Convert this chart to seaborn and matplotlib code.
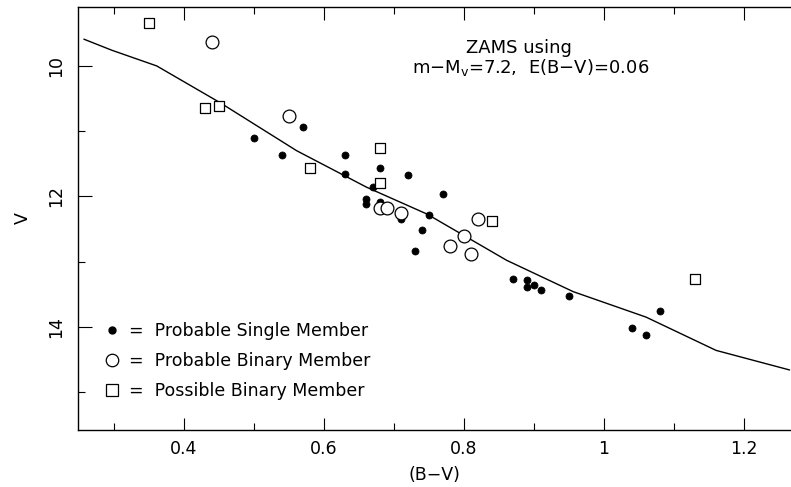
import numpy as np
import pandas as pd
import matplotlib
matplotlib.use("Agg")
import matplotlib.pyplot as plt
from matplotlib.lines import Line2D
from matplotlib.ticker import MultipleLocator
import seaborn as sns

# ---- data ----
zams_bv = [0.257, 0.297, 0.361, 0.451, 0.561, 0.661, 0.747, 0.861, 0.956, 1.06, 1.16, 1.265]
zams_v = [9.59, 9.76, 10.00, 10.56, 11.30, 11.86, 12.27, 12.98, 13.46, 13.85, 14.36, 14.66]

single_bv = [0.57, 0.50, 0.54, 0.63, 0.63, 0.68, 0.72, 0.67, 0.66, 0.66, 0.68, 0.77,
             0.71, 0.75, 0.74, 0.73, 0.87, 0.89, 0.89, 0.90, 0.91, 0.95, 1.04, 1.06, 1.08]
single_v = [10.94, 11.10, 11.37, 11.36, 11.65, 11.57, 11.67, 11.86, 12.04, 12.11, 12.09, 11.96,
            12.35, 12.28, 12.51, 12.84, 13.27, 13.28, 13.39, 13.36, 13.43, 13.52, 14.02, 14.12, 13.75]

binary_bv = [0.44, 0.55, 0.68, 0.69, 0.71, 0.82, 0.80, 0.78, 0.81]
binary_v = [9.64, 10.77, 12.18, 12.18, 12.26, 12.35, 12.60, 12.76, 12.89]

possible_bv = [0.35, 0.43, 0.45, 0.58, 0.68, 0.68, 0.84, 1.13]
possible_v = [9.34, 10.65, 10.61, 11.57, 11.26, 11.80, 12.38, 13.27]

xticks = [0.4, 0.6, 0.8, 1.0, 1.2]
xtick_labels = ["0.4", "0.6", "0.8", "1", "1.2"]
yticks = [10, 12, 14]
ytick_labels = ["10", "12", "14"]

legend_labels = ["=  Probable Single Member", "=  Probable Binary Member", "=  Possible Binary Member"]
note_line1 = "ZAMS using"
note_line2 = "m\u2212M$_\\mathregular{v}$=7.2,  E(B\u2212V)=0.06"

# ---- style ----
sns.set_style("ticks")
plt.rcParams['font.family'] = ['DejaVu Sans']
plt.rcParams['mathtext.default'] = 'regular'
plt.rcParams['text.color'] = 'black'
plt.rcParams['axes.labelcolor'] = 'black'
plt.rcParams['xtick.color'] = 'black'
plt.rcParams['ytick.color'] = 'black'

fig = plt.figure(figsize=(7.91, 4.87), dpi=100)
ax = fig.add_axes([78 / 791, 1 - 430 / 487, 1 - 78 / 791, (430 - 7) / 487])

zams = pd.DataFrame({"bv": zams_bv, "v": zams_v})
sns.lineplot(data=zams, x="bv", y="v", sort=False, color="black", lw=1.0, ax=ax)

df_s = pd.DataFrame({"bv": single_bv, "v": single_v})
df_b = pd.DataFrame({"bv": binary_bv, "v": binary_v})
df_p = pd.DataFrame({"bv": possible_bv, "v": possible_v})

sns.scatterplot(data=df_s, x="bv", y="v", marker="o", s=26, color="black",
                edgecolor="black", linewidth=0.5, ax=ax, zorder=3)
sns.scatterplot(data=df_b, x="bv", y="v", marker="o", s=85, facecolor="white",
                edgecolor="black", linewidth=0.9, ax=ax, zorder=3)
sns.scatterplot(data=df_p, x="bv", y="v", marker="s", s=62, facecolor="white",
                edgecolor="black", linewidth=0.9, ax=ax, zorder=3)

ax.set_xlim(0.2486, 1.267)
ax.set_ylim(15.58, 9.097)

ax.set_xticks(xticks)
ax.set_xticklabels(xtick_labels)
ax.xaxis.set_minor_locator(MultipleLocator(0.1))
ax.set_yticks(yticks)
ax.set_yticklabels(ytick_labels, rotation=90, va="center")
ax.yaxis.set_minor_locator(MultipleLocator(1))

ax.tick_params(axis="x", which="both", direction="in", top=True, bottom=True,
               labelsize=12.5, pad=7, width=0.8, colors="black")
ax.tick_params(axis="x", which="major", length=9)
ax.tick_params(axis="x", which="minor", length=5)
ax.tick_params(axis="y", which="both", direction="in", left=True, right=False,
               labelsize=12.5, pad=9, width=0.8, colors="black")
ax.tick_params(axis="y", which="major", length=10)
ax.tick_params(axis="y", which="minor", length=5)

for side in ["left", "bottom", "top"]:
    ax.spines[side].set_visible(True)
    ax.spines[side].set_linewidth(1.0)
    ax.spines[side].set_color("black")
ax.spines["right"].set_visible(False)

ax.set_xlabel("(B\u2212V)", fontsize=12.5, labelpad=6)
ax.set_ylabel("V", fontsize=12.5, labelpad=11, rotation=90)

ax.text(0.879, 9.72, note_line1, ha="center", va="center", fontsize=13)
ax.text(0.895, 10.03, note_line2, ha="center", va="center", fontsize=13)

handles = [
    Line2D([], [], marker="o", linestyle="none", markersize=5, markerfacecolor="black",
           markeredgecolor="black"),
    Line2D([], [], marker="o", linestyle="none", markersize=9, markerfacecolor="white",
           markeredgecolor="black", markeredgewidth=0.9),
    Line2D([], [], marker="s", linestyle="none", markersize=8, markerfacecolor="white",
           markeredgecolor="black", markeredgewidth=0.9),
]
leg = ax.legend(handles, legend_labels, loc="lower left", bbox_to_anchor=(0.036, 0.071),
                frameon=False, fontsize=12.5, handlelength=1.0, handletextpad=0.45,
                labelspacing=0.7, borderpad=0, borderaxespad=0)

fig.savefig("out.png", dpi=100)
